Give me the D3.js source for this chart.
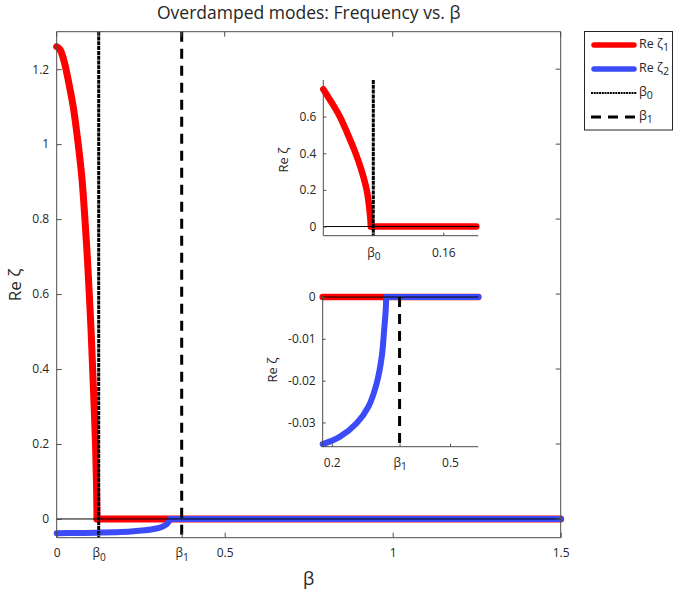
<!DOCTYPE html>
<html><head><meta charset="utf-8">
<script src="https://cdn.jsdelivr.net/npm/d3@7"></script>
<style>
body{margin:0;background:#fff}
svg{display:block}
text{font-family:"Open Sans",sans-serif;fill:#262626}
</style>
</head><body>
<svg id="c" width="674" height="591"></svg>
<script>
// ---------------- data ----------------
const titleText = "Overdamped modes: Frequency vs. β";
const beta0 = 0.125;
const beta1 = 0.372;

// Re zeta_1 (main panel)
const redBeta = [0, 0.01, 0.02, 0.03, 0.04, 0.05, 0.064, 0.075, 0.084, 0.091, 0.097, 0.1025, 0.107, 0.1115, 0.1155, 0.1183, 0.12, 1.5];
const redVal  = [1.26, 1.252, 1.228, 1.19, 1.145, 1.095, 1.0, 0.91, 0.8, 0.7, 0.6, 0.5, 0.4, 0.3, 0.2, 0.1, 0, 0];
// Re zeta_2
const blueBeta = [0, 0.06, 0.12, 0.177, 0.221, 0.263, 0.293, 0.314, 0.327, 0.333, 0.337, 0.338, 1.5];
const blueVal  = [-0.038, -0.0375, -0.0365, -0.0352, -0.0334, -0.0302, -0.0262, -0.0206, -0.0141, -0.0077, -0.0029, 0, 0];
// Re zeta_1 (upper inset)
const redInsetBeta = [0.1, 0.104, 0.1083, 0.112, 0.1158, 0.119, 0.1217, 0.1228, 0.1235, 0.1238, 0.1765];
const redInsetVal  = [0.75, 0.68, 0.6, 0.51, 0.41, 0.31, 0.2, 0.12, 0.05, 0, 0];

const mainXTicks = [0, beta0, beta1, 0.5, 1, 1.5];
const mainXLabels = ["0", "β_0", "β_1", "0.5", "1", "1.5"];
const mainYTicks = [0, 0.2, 0.4, 0.6, 0.8, 1, 1.2];
const mainYLabels = ["0", "0.2", "0.4", "0.6", "0.8", "1", "1.2"];
const in1XTicks = [beta0, 0.16];
const in1XLabels = ["β_0", "0.16"];
const in1YTicks = [0, 0.2, 0.4, 0.6];
const in1YLabels = ["0", "0.2", "0.4", "0.6"];
const in2XTicks = [0.2, beta1, 0.5];
const in2XLabels = ["0.2", "β_1", "0.5"];
const in2YTicks = [0, -0.01, -0.02, -0.03];
const in2YLabels = ["0", "-0.01", "-0.02", "-0.03"];

const legendLabels = ["Re ζ_1", "Re ζ_2", "β_0", "β_1"];

// ---------------- styles ----------------
const RED = "#ff0000", BLUE = "#3b4bf7", AXC = "#4d4d4d";
const DOT = "4,0.8", DASH = "10,7";

const svg = d3.select("#c");
const zip = (a, b) => a.map((d, i) => [d, b[i]]);

function subText(sel) {
  sel.each(function () {
    const t = d3.select(this), s = t.text();
    if (s.includes("_")) {
      const [a, b] = s.split("_");
      t.text(null);
      t.append("tspan").text(a);
      t.append("tspan").attr("dy", "0.35em").attr("font-size", "0.85em").text(b);
    }
  });
}

function clipX(pts, a, b) {
  const out = [];
  for (let i = 0; i < pts.length - 1; i++) {
    const [x0, y0] = pts[i], [x1, y1] = pts[i + 1];
    if (x1 < a || x0 > b) continue;
    const f = x => y0 + (y1 - y0) * (x - x0) / (x1 - x0);
    const s = Math.max(x0, a), e = Math.min(x1, b);
    const p1 = [s, f(s)], p2 = [e, f(e)];
    if (!out.length || out[out.length - 1][0] < p1[0]) out.push(p1);
    if (out[out.length - 1][0] < p2[0]) out.push(p2);
  }
  return out;
}

function drawAxes(g, x, y, o) {
  const xa = d3.axisBottom(x).tickValues(o.xt).tickFormat((d, i) => o.xl[i])
    .tickSizeInner(-o.tick).tickSizeOuter(0).tickPadding(o.xpad);
  const ya = d3.axisLeft(y).tickValues(o.yt).tickFormat((d, i) => o.yl[i])
    .tickSizeInner(-o.tick).tickSizeOuter(0).tickPadding(o.ypad);
  const gx = g.append("g").attr("transform", `translate(0,${y.range()[0]})`).call(xa);
  const gy = g.append("g").attr("transform", `translate(${x.range()[0]},0)`).call(ya);
  [gx, gy].forEach(a => {
    a.attr("color", AXC);
    a.selectAll("text").attr("font-size", 12).attr("fill", "#262626")
      .style("font-family", '"Open Sans",sans-serif').call(subText);
  });
  gx.select(".domain").attr("d", `M${x.range()[0]},0H${x.range()[1]}`);
  gy.select(".domain").attr("d", `M0,${y.range()[0]}V${y.range()[1]}`);
  if (o.box) {
    const [x0, x1] = x.range(), [y0, y1] = y.range();
    g.append("path").attr("fill", "none").attr("stroke", AXC)
      .attr("d", `M${x0},${y1}H${x1}V${y0}`);
    o.xt.forEach(t => g.append("line").attr("stroke", AXC)
      .attr("x1", x(t)).attr("x2", x(t)).attr("y1", y1).attr("y2", y1 + o.tick));
    o.yt.forEach(t => g.append("line").attr("stroke", AXC)
      .attr("x1", x1).attr("x2", x1 - o.tick).attr("y1", y(t)).attr("y2", y(t)));
  }
}

// smooth part up to the first zero value, straight afterwards
function curve(g, x, y, pts, color, w) {
  let k = pts.findIndex(d => d[1] === 0);
  if (k < 0) k = pts.length - 1;
  const parts = [pts.slice(0, k + 1), pts.slice(k)];
  const curves = [d3.curveCatmullRom.alpha(0.5), d3.curveLinear];
  parts.forEach((p, i) => {
    if (p.length < 2) return;
    g.append("path").datum(p)
      .attr("fill", "none").attr("stroke", color).attr("stroke-width", w)
      .attr("stroke-linecap", "round").attr("stroke-linejoin", "round")
      .attr("d", d3.line().x(d => x(d[0])).y(d => y(d[1])).curve(curves[i]));
  });
}
function hline(g, x, y, a, b) {
  g.append("line").attr("stroke", "#000").attr("stroke-width", 1)
    .attr("x1", x(a)).attr("x2", x(b)).attr("y1", y(0)).attr("y2", y(0));
}
function vline(g, x, y, v, y0, y1, dash, w) {
  g.append("line").attr("stroke", "#000").attr("stroke-width", w)
    .attr("stroke-dasharray", dash)
    .attr("x1", x(v)).attr("x2", x(v)).attr("y1", y(y1)).attr("y2", y(y0));
}

// ---------------- main axes ----------------
const xM = d3.scaleLinear().domain([0, 1.5]).range([56.7, 560.7]);
const yM = d3.scaleLinear().domain([-0.05, 1.3]).range([537.7, 31.7]);
const gM = svg.append("g");
curve(gM, xM, yM, zip(redBeta, redVal), RED, 7);
curve(gM, xM, yM, zip(blueBeta, blueVal), BLUE, 6);
hline(gM, xM, yM, 0, 1.5);
vline(gM, xM, yM, beta0, -0.05, 1.3, DOT, 3);
vline(gM, xM, yM, beta1, -0.05, 1.3, DASH, 3);
drawAxes(gM, xM, yM, {xt: mainXTicks, xl: mainXLabels, yt: mainYTicks, yl: mainYLabels,
  tick: 5, xpad: 11, ypad: 7.5, box: true});

svg.append("text").attr("x", 308.7).attr("y", 19).attr("text-anchor", "middle")
  .attr("font-size", 17.5).attr("fill", "#111").text(titleText);
svg.append("text").attr("x", 308.7).attr("y", 585).attr("text-anchor", "middle")
  .attr("font-size", 18).text("β");
svg.append("text").attr("transform", "translate(21,285) rotate(-90)").attr("text-anchor", "middle")
  .attr("font-size", 17).text("Re ζ");

// ---------------- inset 1 ----------------
const x1s = d3.scaleLinear().domain([0.1, 0.1775]).range([323.3, 478.3]);
const y1s = d3.scaleLinear().domain([-0.05, 0.8]).range([235.7, 80]);
const g1 = svg.append("g");
curve(g1, x1s, y1s, zip(redInsetBeta, redInsetVal), RED, 6.5);
hline(g1, x1s, y1s, 0.1, 0.1775);
vline(g1, x1s, y1s, beta0, -0.05, 0.8, DOT, 3);
drawAxes(g1, x1s, y1s, {xt: in1XTicks, xl: in1XLabels, yt: in1YTicks, yl: in1YLabels,
  tick: 3, xpad: 12.5, ypad: 7, box: false});
svg.append("text").attr("transform", "translate(288,160) rotate(-90)").attr("text-anchor", "middle")
  .attr("font-size", 13).text("Re ζ");

// ---------------- inset 2 ----------------
const x2s = d3.scaleLinear().domain([0.177, 0.5717]).range([322.7, 478.3]);
const y2s = d3.scaleLinear().domain([-0.0358, 0.0002]).range([446.7, 296.2]);
const g2 = svg.append("g");
const d2 = x2s.domain();
curve(g2, x2s, y2s, clipX(zip(redBeta, redVal), d2[0], d2[1]), RED, 6.5);
curve(g2, x2s, y2s, clipX(zip(blueBeta, blueVal), d2[0], d2[1]), BLUE, 6);
hline(g2, x2s, y2s, d2[0], d2[1]);
vline(g2, x2s, y2s, beta1, -0.0358, 0, DASH, 3);
drawAxes(g2, x2s, y2s, {xt: in2XTicks, xl: in2XLabels, yt: in2YTicks, yl: in2YLabels,
  tick: 3, xpad: 11.5, ypad: 7, box: false});
svg.append("text").attr("transform", "translate(277,370) rotate(-90)").attr("text-anchor", "middle")
  .attr("font-size", 13).text("Re ζ");

// ---------------- legend ----------------
const lg = svg.append("g");
lg.append("rect").attr("x", 584.5).attr("y", 31.5).attr("width", 88).attr("height", 98.5)
  .attr("fill", "#fff").attr("stroke", "#262626").attr("stroke-width", 1);
const legendStyles = [
  {c: RED, w: 5.5, dash: null, cap: "round"},
  {c: BLUE, w: 5.5, dash: null, cap: "round"},
  {c: "#000", w: 2, dash: "2,0.7", cap: "butt"},
  {c: "#000", w: 3, dash: DASH, cap: "butt"}
];
const legendY = d3.scalePoint().domain(d3.range(legendLabels.length)).range([45, 117]);
legendLabels.forEach((lab, i) => {
  const s = legendStyles[i], yy = legendY(i);
  lg.append("line").attr("x1", i < 2 ? 594 : 591).attr("x2", i < 2 ? 634 : 637)
    .attr("y1", yy).attr("y2", yy).attr("stroke", s.c).attr("stroke-width", s.w)
    .attr("stroke-linecap", s.cap).attr("stroke-dasharray", s.dash);
  lg.append("text").attr("x", 639).attr("y", yy).attr("dy", "0.2em")
    .attr("font-size", 12.5).text(lab).call(subText);
});
</script>
</body></html>
